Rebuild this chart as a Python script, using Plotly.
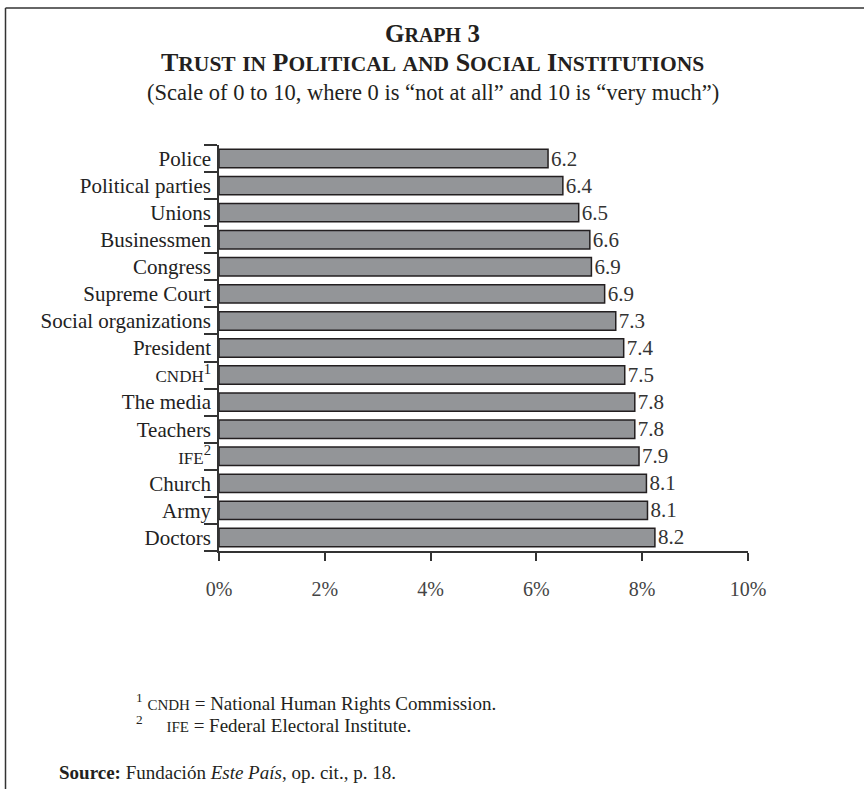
import plotly.graph_objects as go

categories = ["Police", "Political parties", "Unions", "Businessmen", "Congress",
              "Supreme Court", "Social organizations", "President", "CNDH¹", "The media",
              "Teachers", "IFE²", "Church", "Army", "Doctors"]
tick_labels = ["Police", "Political parties", "Unions", "Businessmen", "Congress",
               "Supreme Court", "Social organizations", "President",
               "<span style='font-size:17px'>CNDH</span><sup>1</sup>", "The media",
               "Teachers", "<span style='font-size:17px'>IFE</span><sup>2</sup>",
               "Church", "Army", "Doctors"]
bar_values = [6.22, 6.5, 6.8, 7.01, 7.04, 7.29, 7.5, 7.65, 7.67, 7.86, 7.86, 7.94, 8.08, 8.1, 8.24]
value_labels = ["6.2", "6.4", "6.5", "6.6", "6.9", "6.9", "7.3", "7.4", "7.5", "7.8",
                "7.8", "7.9", "8.1", "8.1", "8.2"]
x_tickvals = [0, 2, 4, 6, 8, 10]
x_ticktext = ["0%", "2%", "4%", "6%", "8%", "10%"]

FONT = "Liberation Serif, Times New Roman, serif"
W, H = 864, 789
L, R, T, B = 219, 748, 145, 551


def px(x):
    return (x - L) / (R - L)


def py(y):
    return (B - y) / (B - T)


def small_caps(text, big, small):
    out = []
    for word in text.split(" "):
        first, rest = word[0], word[1:]
        if first.isupper() or first.isdigit():
            piece = first
            if rest:
                piece += f"<span style='font-size:{small}px'>{rest.upper()}</span>"
        else:
            piece = f"<span style='font-size:{small}px'>{word.upper()}</span>"
        out.append(piece)
    return f"<span style='font-size:{big}px'>" + " ".join(out) + "</span>"


fig = go.Figure()
fig.add_trace(go.Bar(
    x=bar_values, y=categories, orientation="h",
    marker=dict(color="#939598", line=dict(color="#231f20", width=1.5)),
    text=value_labels, textposition="outside", cliponaxis=False, constraintext="none",
    textfont=dict(family=FONT, size=21, color="#333333"),
    hoverinfo="skip",
))

fig.update_layout(
    width=W, height=H,
    margin=dict(l=L, r=W - R, t=T, b=H - B, pad=0),
    paper_bgcolor="white", plot_bgcolor="white",
    showlegend=False, bargap=0.32,
    font=dict(family=FONT, color="#333333"),
)
fig.update_xaxes(
    range=[0, 10], tickvals=x_tickvals, ticktext=x_ticktext,
    showgrid=False, zeroline=False, showline=True, linecolor="#333333", linewidth=1.5,
    ticks="outside", ticklen=8, tickwidth=1.5, tickcolor="#333333",
    ticklabelstandoff=11,
    tickfont=dict(family=FONT, size=20, color="#444444"),
)
fig.update_yaxes(
    categoryorder="array", categoryarray=categories, autorange="reversed",
    tickvals=categories, ticktext=tick_labels,
    showgrid=False, zeroline=False, showline=True, linecolor="#333333", linewidth=1.5,
    ticks="outside", tickson="boundaries", ticklen=13, tickwidth=1.5, tickcolor="#333333",
    ticklabelstandoff=2,
    tickfont=dict(family=FONT, size=21, color="#222222"),
)

# frame around the figure
fig.add_shape(type="line", xref="paper", yref="paper", x0=px(5.5), x1=px(5.5), y0=py(8), y1=py(800),
              line=dict(color="#333333", width=1.5))
fig.add_shape(type="line", xref="paper", yref="paper", x0=px(5.5), x1=px(870), y0=py(8), y1=py(8),
              line=dict(color="#333333", width=1.5))

ann = []
ann.append(dict(text="<b>" + small_caps("Graph 3", 25, 20) + "</b>", x=px(432), y=py(34),
                font=dict(family=FONT, size=25, color="#231f20")))
ann.append(dict(text="<b>" + small_caps("Trust in Political and Social Institutions", 26, 21.5) + "</b>",
                x=px(432), y=py(63), font=dict(family=FONT, size=26, color="#231f20")))
ann.append(dict(text="(Scale of 0 to 10, where 0 is “not at all” and 10 is “very much”)", x=px(433), y=py(93),
                font=dict(family=FONT, size=22.5, color="#231f20")))
for a in ann:
    a.update(xref="paper", yref="paper", showarrow=False, xanchor="center", yanchor="middle")

notes = [
    dict(text="<sup>1</sup> <span style='font-size:15px'>CNDH</span> = National Human Rights Commission.",
         x=px(134), y=py(702)),
    dict(text="<sup>2</sup>     <span style='font-size:15px'>IFE</span> = Federal Electoral Institute.",
         x=px(134), y=py(724)),
    dict(text="<b>Source:</b> Fundación <i>Este País</i>, op. cit., p. 18.",
         x=px(57), y=py(772)),
]
for n in notes:
    n.update(xref="paper", yref="paper", showarrow=False, xanchor="left", yanchor="middle",
             font=dict(family=FONT, size=19, color="#231f20"))
    ann.append(n)

fig.update_layout(annotations=ann)
fig.write_html("out.html")
